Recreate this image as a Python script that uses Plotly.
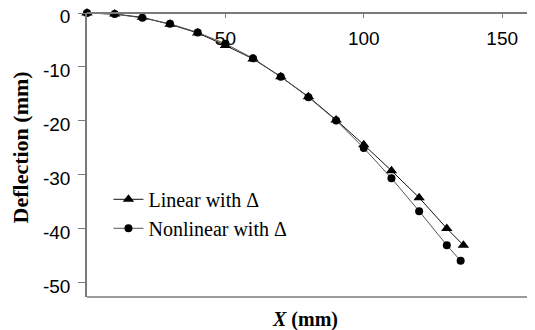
import plotly.graph_objects as go

x_linear = [0, 10, 20, 30, 40, 50, 60, 70, 80, 90, 100, 110, 120, 130, 136]
y_linear = [0, -0.2, -0.8, -2.1, -3.7, -6.0, -8.5, -11.8, -15.5, -19.8, -24.4, -29.2, -34.2, -39.9, -43.0]
x_nonlinear = [0, 10, 20, 30, 40, 50, 60, 70, 80, 90, 100, 110, 120, 130, 135]
y_nonlinear = [0, -0.2, -0.9, -2.0, -3.6, -5.7, -8.4, -11.8, -15.6, -19.9, -25.0, -30.6, -36.7, -43.0, -45.9]
x_ticks = [50, 100, 150]
y_ticks = [0, -10, -20, -30, -40, -50]
y_tick_labels = ["0", "-10", "-20", "-30", "-40", "-50"]

axis_color = "#7a7a7a"
serif = "Liberation Serif, Times New Roman, serif"
sans = "Liberation Sans, Arial, sans-serif"

fig = go.Figure()
fig.add_trace(go.Scatter(
    x=x_linear, y=y_linear, mode="lines+markers", name="Linear with Δ",
    line=dict(color="#111111", width=1),
    marker=dict(symbol="triangle-up", size=10, color="black"),
    cliponaxis=False,
))
fig.add_trace(go.Scatter(
    x=x_nonlinear, y=y_nonlinear, mode="lines+markers", name="Nonlinear with Δ",
    line=dict(color="#555555", width=1),
    marker=dict(symbol="circle", size=8, color="black"),
    cliponaxis=False,
))

fig.update_layout(
    width=527, height=322,
    margin=dict(l=79, r=1, t=5, b=33, autoexpand=False),
    plot_bgcolor="white", paper_bgcolor="white",
    showlegend=True,
    legend=dict(
        x=0.048, y=0.293, xanchor="left", yanchor="middle",
        font=dict(family=serif, size=20, color="black"),
        bgcolor="rgba(0,0,0,0)", tracegroupgap=0, itemwidth=30,
    ),
    xaxis=dict(
        range=[0, 161.5], side="bottom", anchor="free", position=1, automargin=False,
        showline=True, linecolor=axis_color, linewidth=1.5,
        ticks="outside", ticklen=4, tickcolor=axis_color, tickvals=x_ticks,
        ticklabelstandoff=4, showgrid=False, zeroline=False,
        tickfont=dict(family=sans, size=19, color="black"),
    ),
    yaxis=dict(
        range=[-52.6, 0], showline=True, linecolor=axis_color, linewidth=1.5,
        ticks="outside", ticklen=7, tickcolor=axis_color, automargin=False,
        tickvals=y_ticks, ticktext=y_tick_labels, ticklabelstandoff=4,
        ticklabelshift=3, ticklabeloverflow="allow",
        showgrid=False, zeroline=False,
        tickfont=dict(family=sans, size=19, color="black"),
    ),
    shapes=[dict(type="line", xref="paper", yref="paper", x0=0, x1=1, y0=0, y1=0,
                 line=dict(color=axis_color, width=1.5))],
    annotations=[
        dict(text="<b><i>X</i> (mm)</b>", xref="paper", yref="paper", x=0.488, y=0,
             xanchor="center", yanchor="middle", yshift=-22, showarrow=False,
             font=dict(family=serif, size=20, color="black")),
        dict(text="<b>Deflection (mm)</b>", xref="paper", yref="paper", x=-0.148, y=0.526,
             xanchor="center", yanchor="middle", textangle=-90, showarrow=False,
             font=dict(family=serif, size=22, color="black")),
    ],
)

fig.write_html("out.html")
